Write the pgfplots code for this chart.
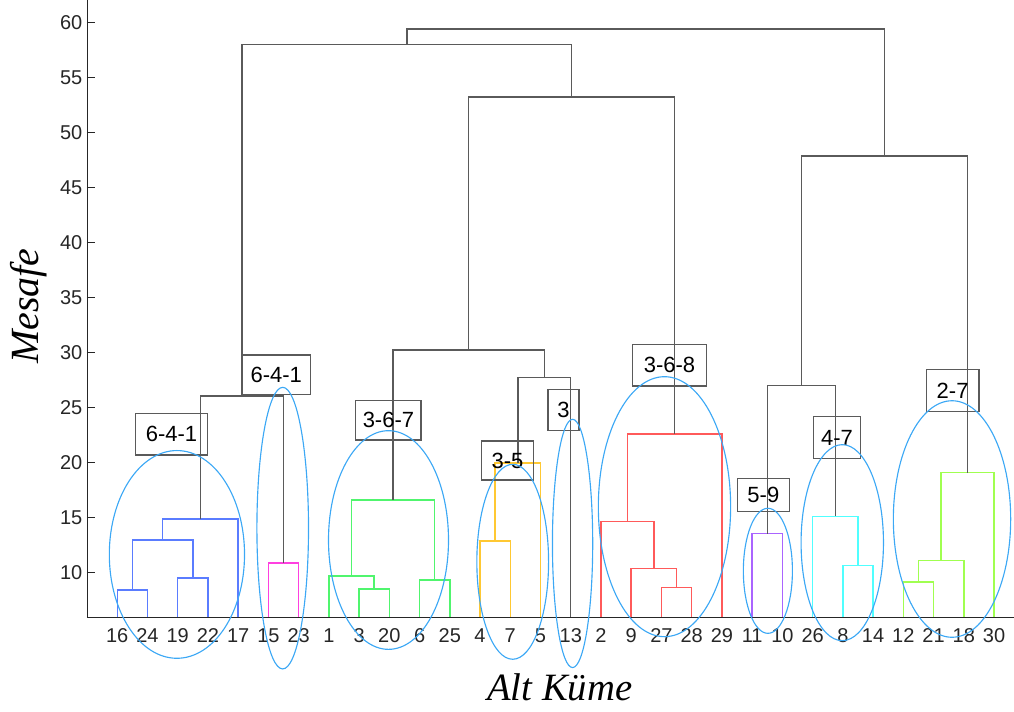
\documentclass[border=0pt]{standalone}
\usepackage{fontspec}
\setmainfont{Liberation Sans}
\newfontfamily\labelfont{Liberation Serif}
\usepackage{pgfplots}
\pgfplotsset{compat=1.18}
\definecolor{cblue}{RGB}{90,124,255}
\definecolor{cmag}{RGB}{255,64,224}
\definecolor{cgreen}{RGB}{80,245,110}
\definecolor{corange}{RGB}{255,200,50}
\definecolor{cred}{RGB}{255,90,90}
\definecolor{cpurple}{RGB}{170,100,255}
\definecolor{ccyan}{RGB}{80,255,255}
\definecolor{clime}{RGB}{160,255,80}
\definecolor{cblack}{RGB}{90,90,90}
\definecolor{ell}{RGB}{60,168,245}
\definecolor{axgray}{RGB}{38,38,38}
\begin{document}
\begin{tikzpicture}
\useasboundingbox (-65.25pt,-70.5pt) rectangle (695.25pt,462.75pt);
\begin{axis}[
  scale only axis,
  width=695.25pt, height=462.75pt,
  xmin=0, xmax=30.66, ymin=5.95, ymax=62.05,
  clip=false,
  axis x line*=bottom, axis y line*=left,
  axis line style={-, axgray, line width=0.7pt},
  tick style={axgray, line width=0.7pt},
  tick align=inside,
  major tick length=6pt,
  xtick={1,...,30},
  xticklabels={16,24,19,22,17,15,23,1,3,20,6,25,4,7,5,13,2,9,27,28,29,11,10,26,8,14,12,21,18,30},
  ytick={10,15,...,60},
  /pgf/number format/assume math mode=true,
  ticklabel style={font=\fontsize{15}{18}\selectfont, text=axgray},
  xticklabel style={yshift=-5pt},
  xlabel={\labelfont\itshape Alt Küme},
  ylabel={\labelfont\itshape Mesafe},
  xlabel style={at={(axis description cs:0.51,-0.1145)}, anchor=center, font=\fontsize{29}{32}\selectfont},
  ylabel style={at={(axis description cs:-0.0633,0.504)}, anchor=center, font=\fontsize{30}{33}\selectfont},
  every axis plot/.append style={line width=1.1pt, mark=none},
]
% blue
\addplot[cblue] coordinates {(1,5.95) (1,8.41) (2,8.41) (2,5.95)};
\addplot[cblue] coordinates {(3,5.95) (3,9.5) (4,9.5) (4,5.95)};
\addplot[cblue] coordinates {(1.5,8.41) (1.5,12.95) (3.5,12.95) (3.5,9.5)};
\addplot[cblue] coordinates {(2.5,12.95) (2.5,14.86) (5,14.86) (5,5.95)};
% magenta
\addplot[cmag] coordinates {(6,5.95) (6,10.86) (7,10.86) (7,5.95)};
\addplot[cblack] coordinates {(3.75,14.86) (3.75,26.05) (6.5,26.05) (6.5,10.86)};
% green
\addplot[cgreen] coordinates {(9,5.95) (9,8.5) (10,8.5) (10,5.95)};
\addplot[cgreen] coordinates {(8,5.95) (8,9.68) (9.5,9.68) (9.5,8.5)};
\addplot[cgreen] coordinates {(11,5.95) (11,9.32) (12,9.32) (12,5.95)};
\addplot[cgreen] coordinates {(8.75,9.68) (8.75,16.59) (11.5,16.59) (11.5,9.32)};
% orange
\addplot[corange] coordinates {(13,5.95) (13,12.86) (14,12.86) (14,5.95)};
\addplot[corange] coordinates {(13.5,12.86) (13.5,19.95) (15,19.95) (15,5.95)};
\addplot[cblack] coordinates {(14.25,19.95) (14.25,27.71) (16,27.71) (16,5.95)};
\addplot[cblack] coordinates {(10.125,16.59) (10.125,30.23) (15.125,30.23) (15.125,27.71)};
% red
\addplot[cred] coordinates {(19,5.95) (19,8.62) (20,8.62) (20,5.95)};
\addplot[cred] coordinates {(18,5.95) (18,10.35) (19.5,10.35) (19.5,8.62)};
\addplot[cred] coordinates {(17,5.95) (17,14.62) (18.75,14.62) (18.75,10.35)};
\addplot[cred] coordinates {(17.875,14.62) (17.875,22.59) (21,22.59) (21,5.95)};
\addplot[cblack] coordinates {(12.625,30.23) (12.625,53.23) (19.4375,53.23) (19.4375,22.59)};
\addplot[cblack] coordinates {(5.125,26.05) (5.125,58.02) (16.03,58.02) (16.03,53.23)};
% purple
\addplot[cpurple] coordinates {(22,5.95) (22,13.53) (23,13.53) (23,5.95)};
% cyan
\addplot[ccyan] coordinates {(25,5.95) (25,10.62) (26,10.62) (26,5.95)};
\addplot[ccyan] coordinates {(24,5.95) (24,15.11) (25.5,15.11) (25.5,10.62)};
\addplot[cblack] coordinates {(22.5,13.53) (22.5,26.98) (24.75,26.98) (24.75,15.11)};
% lime
\addplot[clime] coordinates {(27,5.95) (27,9.14) (28,9.14) (28,5.95)};
\addplot[clime] coordinates {(27.5,9.14) (27.5,11.07) (29,11.07) (29,5.95)};
\addplot[clime] coordinates {(28.25,11.07) (28.25,19.07) (30,19.07) (30,5.95)};
\addplot[cblack] coordinates {(23.625,26.98) (23.625,47.86) (29.125,47.86) (29.125,19.07)};
\addplot[cblack] coordinates {(10.58,58.02) (10.58,59.41) (26.375,59.41) (26.375,47.86)};
% annotation boxes
\begin{scope}[every node/.style={font=\fontsize{16.5}{19}\selectfont, text=black}]
\draw[cblack, line width=0.9pt] (axis cs:1.60,24.47) rectangle (axis cs:3.99,20.68);
\node at (axis cs:2.795,22.575) {6-4-1};
\draw[cblack, line width=0.9pt] (axis cs:5.14,29.77) rectangle (axis cs:7.38,26.20);
\node at (axis cs:6.26,27.985) {6-4-1};
\draw[cblack, line width=0.9pt] (axis cs:8.89,25.62) rectangle (axis cs:11.05,22.05);
\node at (axis cs:9.97,23.835) {3-6-7};
\draw[cblack, line width=0.9pt] (axis cs:13.05,21.95) rectangle (axis cs:14.77,18.41);
\node at (axis cs:13.91,20.18) {3-5};
\draw[cblack, line width=0.9pt] (axis cs:15.25,26.65) rectangle (axis cs:16.27,22.89);
\node at (axis cs:15.76,24.77) {3};
\draw[cblack, line width=0.9pt] (axis cs:18.05,30.75) rectangle (axis cs:20.48,26.95);
\node at (axis cs:19.265,28.85) {3-6-8};
\draw[cblack, line width=0.9pt] (axis cs:21.51,18.53) rectangle (axis cs:23.23,15.53);
\node at (axis cs:22.37,17.03) {5-9};
\draw[cblack, line width=0.9pt] (axis cs:24.02,24.16) rectangle (axis cs:25.59,20.35);
\node at (axis cs:24.805,22.255) {4-7};
\draw[cblack, line width=0.9pt] (axis cs:27.76,28.47) rectangle (axis cs:29.50,24.62);
\node at (axis cs:28.63,26.545) {2-7};
\end{scope}
% ellipses
\begin{scope}[ell, line width=0.85pt]
\draw (axis cs:2.974,11.64) ellipse [x radius=50.7pt, y radius=77.9pt];
\draw (axis cs:6.473,14.03) ellipse [x radius=19.35pt, y radius=105.6pt];
\draw (axis cs:9.972,12.95) ellipse [x radius=45pt, y radius=82pt];
\draw (axis cs:14.08,10.97) ellipse [x radius=26.9pt, y radius=73.1pt];
\draw (axis cs:16.06,12.64) ellipse [x radius=15.1pt, y radius=93.1pt];
\draw (axis cs:19.10,15.98) ellipse [x radius=49.6pt, y radius=97.5pt];
\draw (axis cs:22.52,10.15) ellipse [x radius=18.4pt, y radius=46.9pt];
\draw (axis cs:24.98,12.71) ellipse [x radius=30.9pt, y radius=73.5pt];
\draw (axis cs:28.61,14.86) ellipse [x radius=44pt, y radius=88.7pt];
\end{scope}
\end{axis}
\end{tikzpicture}
\end{document}
